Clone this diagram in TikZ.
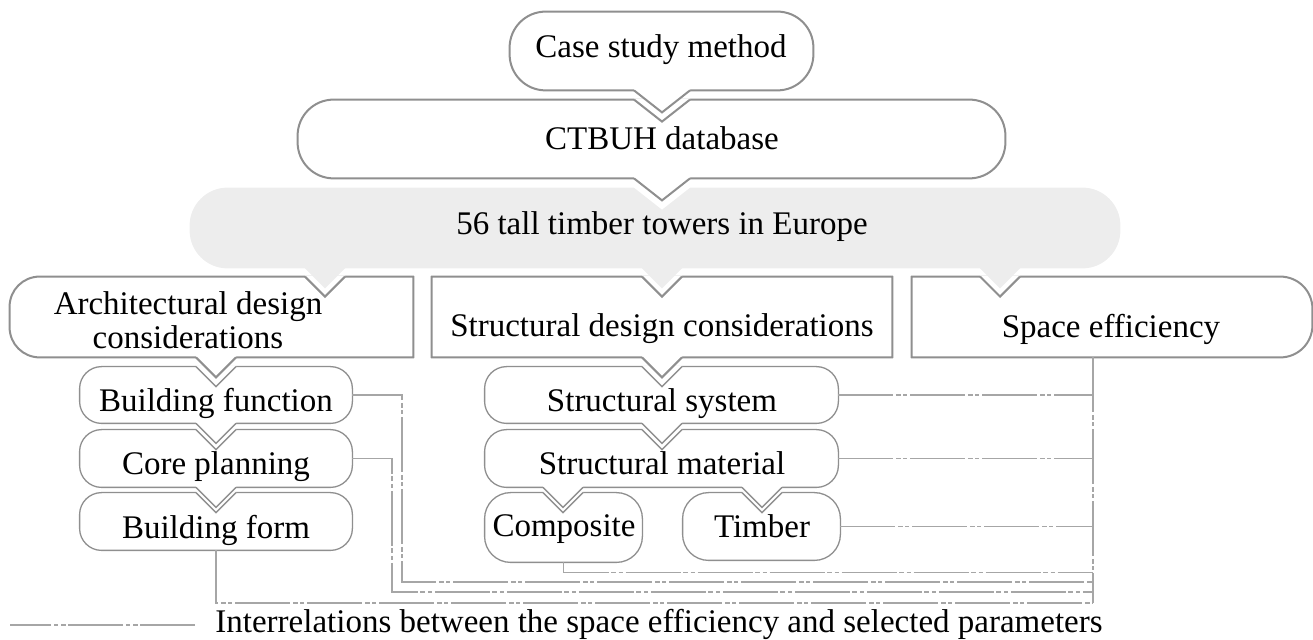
\documentclass[tikz,border=0pt]{standalone}
\usepackage{fontspec}
\setmainfont{Liberation Serif}
\usetikzlibrary{calc}
\definecolor{edgegray}{HTML}{8F8F8F}
\definecolor{linkgray}{HTML}{A6A6A6}
\definecolor{towerfill}{HTML}{EDEDED}
\tikzset{
  slot/.style 2 args={minimum width=#1,minimum height=#2,inner sep=0pt},
  bigedge/.style={draw=edgegray,line width=1pt},
  smalledge/.style={draw=edgegray,line width=0.65pt},
  bigbox/.style={bigedge,fill=white},
  smallbox/.style={smalledge,fill=white},
  greybox/.style={fill=towerfill},
  txt/.style={font=\fontsize{16.5}{17}\selectfont,inner sep=0pt,anchor=base},
  relation/.style={draw=linkgray,line width=0.8pt,
    dash pattern=on 27.5pt off 1.25pt on 2.5pt off 1.25pt on 2pt off 1.5pt}
}
% outline of a box, own radius on the left and on the right side
\newcommand\boxoutline[4]{%
  \path[#4] ([xshift=#2]#1.north west) -- ([xshift=-#3]#1.north east)
    arc[start angle=90,end angle=0,radius=#3] -- ([yshift=#3]#1.south east)
    arc[start angle=0,end angle=-90,radius=#3] -- ([xshift=#2]#1.south west)
    arc[start angle=270,end angle=180,radius=#2] -- ([yshift=-#2]#1.north west)
    arc[start angle=180,end angle=90,radius=#2] -- cycle;}
% v cut into the top edge
\newcommand\notch[5]{%
  \fill[white] (#2,0 |- #1.north) ++(-#3,0.6pt) -- ++(0,-0.6pt) -- ++(#3,-#4) -- ++(#3,#4) -- ++(0,0.6pt) -- cycle;
  \path[#5] (#2,0 |- #1.north) ++(-#3,0) -- ++(#3,-#4) -- ++(#3,#4);}
% v hanging from the bottom edge
\newcommand\pointer[6]{%
  \fill[#5] (#2,0 |- #1.south) ++(-#3,0.6pt) -- ++(0,-0.6pt) -- ++(#3,-#4) -- ++(#3,#4) -- ++(0,0.6pt) -- cycle;
  \path[#6] (#2,0 |- #1.south) ++(-#3,0) -- ++(#3,-#4) -- ++(#3,#4);}

\begin{document}
\begin{tikzpicture}[x=0.5pt,y=-0.5pt]
  \useasboundingbox (0,0) rectangle (1313,640);

  % boxes
  \node[slot={151.5pt}{39pt}] (case) at (661.5,51) {};
  \node[slot={353.5pt}{39pt}] (ctbuh) at (651.5,139) {};
  \node[slot={465pt}{40pt}] (towers) at (655,228) {};
  \node[slot={201.5pt}{40pt}] (arch) at (211.5,317) {};
  \node[slot={230pt}{40pt}] (struct) at (662,317) {};
  \node[slot={200pt}{40pt}] (space) at (1112,317) {};
  \node[slot={136pt}{28pt}] (bfunc) at (216,395) {};
  \node[slot={136pt}{28.5pt}] (core) at (216,458.5) {};
  \node[slot={136pt}{28.5pt}] (bform) at (216,521.5) {};
  \node[slot={176.5pt}{28pt}] (ssys) at (661.5,395) {};
  \node[slot={176.5pt}{28.5pt}] (smat) at (661.5,458.5) {};
  \node[slot={78.5pt}{34.5pt}] (comp) at (563.5,527.5) {};
  \node[slot={78.5pt}{33.5pt}] (timber) at (761.5,526.5) {};

  \boxoutline{case}{18pt}{18pt}{bigbox}
  \boxoutline{ctbuh}{18pt}{18pt}{bigbox}
  \boxoutline{towers}{19pt}{19pt}{greybox}
  \boxoutline{arch}{15pt}{0.01pt}{bigbox}
  \boxoutline{struct}{0.01pt}{0.01pt}{bigbox}
  \boxoutline{space}{0.01pt}{16pt}{bigbox}
  \foreach \n in {bfunc,core,bform,ssys,smat}
    {\boxoutline{\n}{11pt}{11pt}{smallbox}}
  \boxoutline{comp}{13pt}{13pt}{smallbox}
  \boxoutline{timber}{13pt}{13pt}{smallbox}

  \notch{ctbuh}{662}{14pt}{11pt}{bigedge}
  \notch{towers}{662}{14pt}{11pt}{draw=none}
  \notch{arch}{325}{10pt}{10pt}{bigedge}
  \notch{struct}{662}{10pt}{10pt}{bigedge}
  \notch{space}{1000}{10pt}{10pt}{bigedge}
  \foreach \n in {bfunc,core,bform}
    {\notch{\n}{216}{10pt}{10pt}{smalledge}}
  \foreach \n in {ssys,smat}
    {\notch{\n}{662}{10pt}{10pt}{smalledge}}
  \notch{comp}{563}{10pt}{10pt}{smalledge}
  \notch{timber}{762}{10pt}{10pt}{smalledge}

  \pointer{case}{662}{14pt}{11pt}{white}{bigedge}
  \pointer{ctbuh}{662}{14pt}{11pt}{white}{bigedge}
  \foreach \x in {325,662,1000}
    {\pointer{towers}{\x}{10pt}{10pt}{towerfill}{draw=none}}
  \pointer{arch}{216}{10pt}{10pt}{white}{bigedge}
  \pointer{struct}{662}{10pt}{10pt}{white}{bigedge}
  \pointer{bfunc}{216}{10pt}{10pt}{white}{smalledge}
  \pointer{core}{216}{10pt}{10pt}{white}{smalledge}
  \pointer{ssys}{662}{10pt}{10pt}{white}{smalledge}
  \pointer{smat}{563}{10pt}{10pt}{white}{smalledge}
  \pointer{smat}{762}{10pt}{10pt}{white}{smalledge}

  % texts
  \node[txt] (case-t) at (661,58) {Case study method};
  \node[txt] (ctbuh-t) at (662,150) {CTBUH database};
  \node[txt] (towers-t) at (662,235) {56 tall timber towers in Europe};
  \node[txt,anchor=center,align=center] (arch-t) at (188,320) {Architectural design\\considerations};
  \node[txt] (struct-t) at (662,337) {Structural design considerations};
  \node[txt] (space-t) at (1111,338) {Space efficiency};
  \node[txt] (bfunc-t) at (216,412) {Building function};
  \node[txt] (core-t) at (216,475) {Core planning};
  \node[txt] (bform-t) at (216,539) {Building form};
  \node[txt] (ssys-t) at (662,412) {Structural system};
  \node[txt] (smat-t) at (662,475) {Structural material};
  \node[txt] (comp-t) at (564,537) {Composite};
  \node[txt] (timber-t) at (762,538) {Timber};

  % interrelations
  \coordinate (bus) at (1093,603);
  \draw[relation] (space.south -| bus) -- (bus);
  \draw[relation] (ssys.east) -- (ssys.east -| bus);
  \draw[relation] (smat.east) -- (smat.east -| bus);
  \draw[relation] (timber.east) -- (timber.east -| bus);
  \draw[relation] (comp.south) |- ([yshift=-5pt]comp.south -| bus);
  \draw[relation] (bfunc.east) -| (402,582) -- (bus |- 0,582);
  \draw[relation] (core.east) -| (392,592) -- (bus |- 0,592);
  \draw[relation] (bform.south) |- (bus);

  % key
  \node[txt,anchor=base west] (key) at (215,633) {Interrelations between the space efficiency and selected parameters};
  \draw[relation] ([xshift=-10pt]key.west) -- ++(-92.5pt,0);
\end{tikzpicture}
\end{document}
